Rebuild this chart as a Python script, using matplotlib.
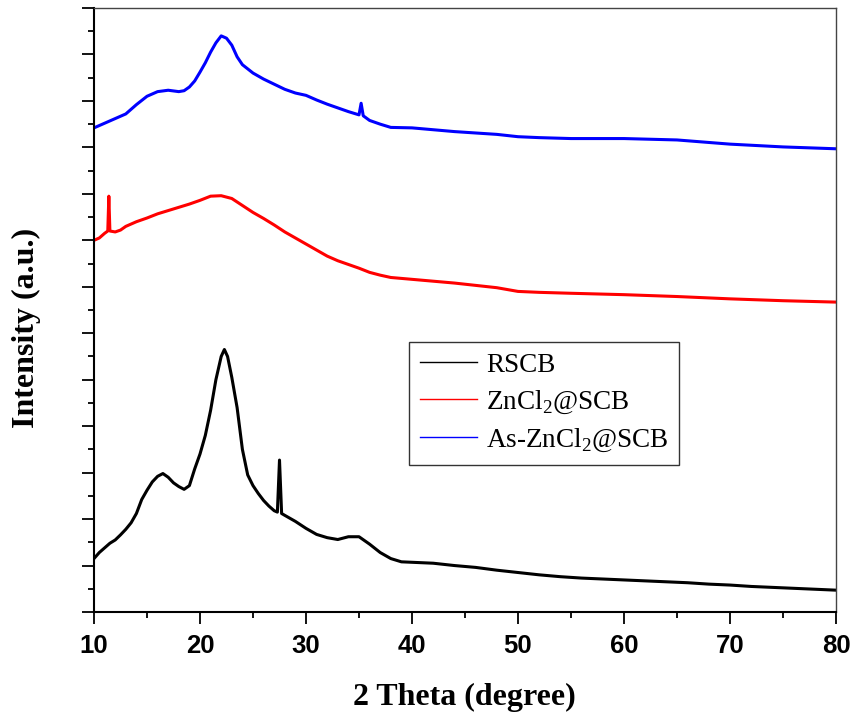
import matplotlib
matplotlib.use("Agg")
import matplotlib.pyplot as plt
from matplotlib.ticker import MultipleLocator, NullFormatter

plt.rcParams['mathtext.fontset'] = 'custom'
plt.rcParams['mathtext.rm'] = 'Liberation Serif'

# ---- data ----
x_rscb = [10, 10.5, 11, 11.5, 12, 12.5, 13, 13.5, 14, 14.5, 15, 15.5, 16, 16.5, 17, 17.5,
          18, 18.5, 19, 19.5, 20, 20.5, 21, 21.5, 22, 22.3, 22.6, 23, 23.5, 24, 24.5, 25,
          25.5, 26, 26.5, 27, 27.3, 27.5, 27.7, 28, 29, 30, 31, 32, 33, 34, 35, 36, 37, 38,
          39, 40, 42, 44, 46, 48, 50, 52, 54, 56, 58, 60, 62, 64, 66, 68, 70, 72, 74, 76, 78, 80]
y_rscb = [1.15, 1.28, 1.38, 1.48, 1.55, 1.66, 1.78, 1.92, 2.12, 2.42, 2.62, 2.80, 2.92, 2.98,
          2.90, 2.78, 2.70, 2.64, 2.72, 3.08, 3.40, 3.80, 4.34, 5.00, 5.50, 5.65, 5.50, 5.05,
          4.40, 3.50, 2.95, 2.72, 2.55, 2.40, 2.28, 2.18, 2.15, 3.27, 2.12, 2.08, 1.95, 1.80,
          1.67, 1.60, 1.56, 1.62, 1.62, 1.46, 1.28, 1.15, 1.08, 1.07, 1.05, 1.00, 0.96, 0.90,
          0.85, 0.80, 0.76, 0.73, 0.71, 0.69, 0.67, 0.65, 0.63, 0.60, 0.58, 0.55, 0.53, 0.51,
          0.49, 0.47]

x_zn = [10, 10.5, 11, 11.3, 11.4, 11.5, 12, 12.5, 13, 14, 15, 16, 17, 18, 19, 20, 21, 22, 23,
        24, 25, 26, 27, 28, 29, 30, 31, 32, 33, 34, 35, 36, 37, 38, 40, 42, 44, 46, 48, 50,
        52, 55, 60, 65, 70, 75, 80]
y_zn = [8.00, 8.05, 8.15, 8.20, 8.95, 8.20, 8.18, 8.22, 8.30, 8.40, 8.48, 8.57, 8.64, 8.71,
        8.78, 8.86, 8.95, 8.96, 8.90, 8.75, 8.60, 8.47, 8.33, 8.18, 8.05, 7.92, 7.79, 7.66,
        7.56, 7.48, 7.40, 7.31, 7.25, 7.20, 7.16, 7.12, 7.08, 7.03, 6.98, 6.90, 6.88, 6.86,
        6.83, 6.79, 6.74, 6.70, 6.67]

x_as = [10, 11, 12, 13, 14, 15, 16, 17, 18, 18.5, 19, 19.5, 20, 20.5, 21, 21.5, 22, 22.5, 23,
        23.5, 24, 25, 26, 27, 28, 29, 30, 31, 32, 33, 34, 35, 35.2, 35.4, 36, 37, 38, 40, 42,
        44, 46, 48, 50, 52, 55, 60, 65, 70, 75, 80]
y_as = [10.42, 10.52, 10.62, 10.72, 10.92, 11.10, 11.20, 11.23, 11.20, 11.22, 11.30, 11.43,
        11.62, 11.82, 12.05, 12.25, 12.40, 12.35, 12.20, 11.95, 11.78, 11.60, 11.47, 11.36,
        11.25, 11.17, 11.12, 11.02, 10.93, 10.85, 10.77, 10.70, 10.95, 10.68, 10.58, 10.50,
        10.43, 10.42, 10.38, 10.34, 10.31, 10.28, 10.23, 10.21, 10.19, 10.19, 10.16, 10.07,
        10.01, 9.97]

labels = ['RSCB', r'ZnCl$_{\mathregular{2}}$@SCB', r'As-ZnCl$_{\mathregular{2}}$@SCB']
colors = ['black', 'red', 'blue']
x_ticks = [10, 20, 30, 40, 50, 60, 70, 80]

fig = plt.figure(figsize=(8.56, 7.19), dpi=100)
ax = fig.add_axes([94/856, 107/719, 742/856, 604/719])

for xs, ys, lab, c in zip([x_rscb, x_zn, x_as], [y_rscb, y_zn, y_as], labels, colors):
    ax.plot(xs, ys, color=c, lw=2.2, label=lab)

ax.set_xlim(10, 80)
ax.set_ylim(0, 13)
ax.set_xticks(x_ticks)
ax.xaxis.set_minor_locator(MultipleLocator(5))
ax.yaxis.set_major_locator(MultipleLocator(1))
ax.yaxis.set_minor_locator(MultipleLocator(0.5))
ax.yaxis.set_major_formatter(NullFormatter())

ax.tick_params(axis='both', which='major', direction='out', length=8.5, width=1.3)
ax.tick_params(axis='both', which='minor', direction='out', length=4.5, width=1.3)
ax.tick_params(top=False, right=False, which='both')
ax.tick_params(axis='x', labelsize=18.5, pad=7)
for lbl in ax.get_xticklabels():
    lbl.set_fontfamily('Liberation Sans')
    lbl.set_fontweight('bold')

for s in ['left', 'bottom']:
    ax.spines[s].set_linewidth(1.5)
for s in ['top', 'right']:
    ax.spines[s].set_linewidth(1.0)
    ax.spines[s].set_color('#444444')

fig.text(464/856, 1 - 697/719, '2 Theta (degree)', fontsize=23, fontweight='bold',
         family='Liberation Serif', ha='center', va='center')
fig.text(26/856, 1 - 328/719, 'Intensity (a.u.)', fontsize=23, fontweight='bold',
         family='Liberation Serif', ha='center', va='center', rotation=90)

leg = ax.legend(loc='upper left', bbox_to_anchor=(0.4245, 0.447),
                prop={'family': 'Liberation Serif', 'size': 19.5},
                frameon=True, fancybox=False, edgecolor='black',
                handlelength=2.1, handletextpad=0.35, labelspacing=0.4,
                borderpad=0.4, borderaxespad=0)
leg.get_frame().set_linewidth(1.0)
for h in leg.get_lines():
    h.set_linewidth(1.0)

fig.savefig('out.png', dpi=100)
